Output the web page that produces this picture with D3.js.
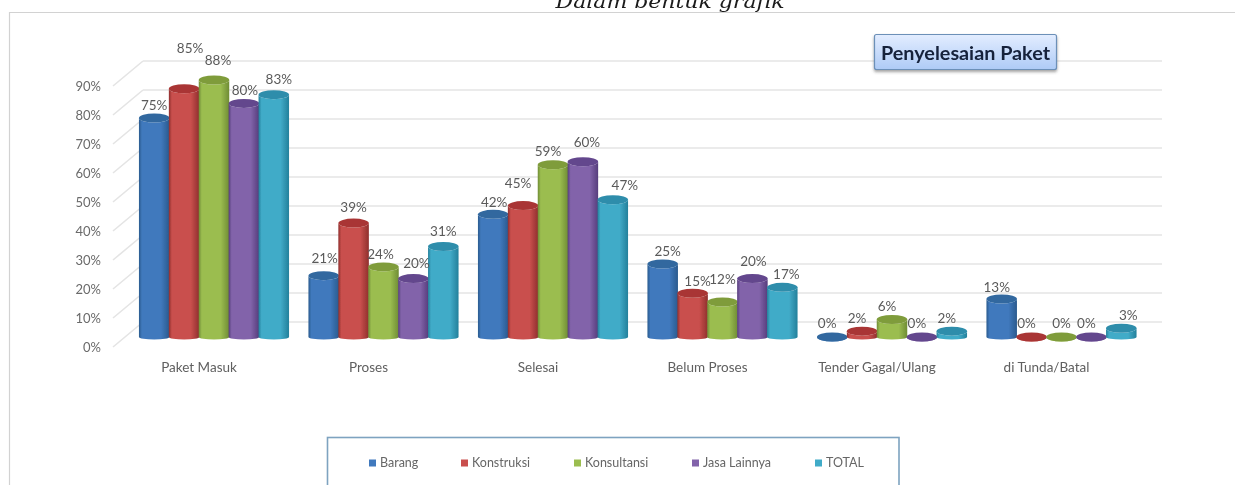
<!DOCTYPE html>
<html>
<head>
<meta charset="utf-8">
<script src="https://cdn.jsdelivr.net/npm/d3@7/dist/d3.min.js"></script>
<style>
html,body{margin:0;padding:0;background:#fff;overflow:hidden}
svg{display:block}
text{font-family:Lato,"Open Sans",sans-serif;fill:#5f5f5f}
</style>
</head>
<body>
<svg id="chart" width="1235" height="485"></svg>
<script>
const categories = ["Paket Masuk","Proses","Selesai","Belum Proses","Tender Gagal/Ulang","di Tunda/Batal"];
const seriesNames = ["Barang","Konstruksi","Konsultansi","Jasa Lainnya","TOTAL"];
const barang      = [75,21,42,25,0,13];
const konstruksi  = [85,39,45,15,2,0];
const konsultansi = [88,24,59,12,6,0];
const jasaLainnya = [80,20,60,20,0,0];
const total       = [83,31,47,17,2,3];
const yTicks = [0,10,20,30,40,50,60,70,80,90];
const seriesValues = [barang,konstruksi,konsultansi,jasaLainnya,total];
const seriesColors = ["#4079bd","#c94f4d","#9bbd50","#8264aa","#41abc8"];
const seriesDark   = ["#2a5a8e","#8f2f2d","#6f8c34","#563c7c","#23809b"];
const seriesTop    = ["#30689f","#a93634","#7f9c3b","#63468d","#2d8dab"];
// label nudges [dx, dy] per category, per series
const labelNudges = [
 [[0,-12],[6,-40],[4,-19],[1,-12],[5,-14]],
 [[1,-16],[0,-15],[-3,-12],[3,-14],[0,-14]],
 [[1,-11],[-5,-21],[-5,-12],[4,-19],[12,-13]],
 [[5,-12],[5,-11],[0,-22],[1,-16],[4,-12]],
 [[-5,-13],[-5,-12],[-5,-12],[-5,-13],[-5,-12]],
 [[-5,-11],[-5,-13],[0,-13],[-5,-13],[7,-12]]
];
const legendSwatchX = [369,461,574,692,815];

const svg = d3.select("#chart");
const defs = svg.append("defs");
defs.append("filter").attr("id","soft").attr("x","-2%").attr("y","-2%").attr("width","104%").attr("height","104%")
  .append("feGaussianBlur").attr("stdDeviation",0.6);
const bf = defs.append("filter").attr("id","boxShadow").attr("x","-10%").attr("y","-20%").attr("width","120%").attr("height","150%");
bf.append("feDropShadow").attr("dx",0).attr("dy",2).attr("stdDeviation",1.5).attr("flood-color","#555").attr("flood-opacity",0.55);

seriesColors.forEach((c,i)=>{
  const g = defs.append("linearGradient").attr("id","cyl"+i).attr("x1",0).attr("x2",1).attr("y1",0).attr("y2",0);
  g.append("stop").attr("offset","0%").attr("stop-color",seriesDark[i]);
  g.append("stop").attr("offset","10%").attr("stop-color",c);
  g.append("stop").attr("offset","72%").attr("stop-color",c);
  g.append("stop").attr("offset","100%").attr("stop-color",seriesDark[i]);
});
const tg = defs.append("linearGradient").attr("id","titleFill").attr("x1",0).attr("x2",0).attr("y1",0).attr("y2",1);
tg.append("stop").attr("offset","0%").attr("stop-color","#e3edff");
tg.append("stop").attr("offset","100%").attr("stop-color","#aecbf6");

// Scales
const x0 = d3.scaleBand().domain(categories).range([129.25,1146.25]).paddingInner(0.118).paddingOuter(0.059);
const x1 = d3.scaleBand().domain(seriesNames).range([0,x0.bandwidth()]);
const yFront = d3.scaleLinear().domain([0,90]).range([347,86]);
const yBack  = d3.scaleLinear().domain([0,90]).range([322,61]);
const yBar   = d3.scaleLinear().domain([0,90]).range([337,74.2]);

const root = svg.append("g").attr("filter","url(#soft)");

// Page title clipped at the top
root.append("text").attr("x",670).attr("y",7.5).attr("text-anchor","middle")
  .attr("textLength",229).attr("lengthAdjust","spacingAndGlyphs")
  .style("font-family","'DejaVu Serif',serif").style("font-style","italic")
  .style("font-size","18.5px").style("fill","#1a1a1a")
  .text("Dalam bentuk grafik");

// Panel border
root.append("path").attr("d","M9.5,485V12.5H1235").attr("fill","none").attr("stroke","#d2d2d2").attr("stroke-width",1.2);

// Gridlines and side wall diagonals
const grid = root.append("g");
grid.selectAll("line.h").data(yTicks).join("line").attr("class","h")
  .attr("x1",143).attr("x2",1162).attr("y1",d=>yBack(d)).attr("y2",d=>yBack(d))
  .attr("stroke","#e4e4e4").attr("stroke-width",1.6);
grid.selectAll("line.d").data(yTicks).join("line").attr("class","d")
  .attr("x1",113).attr("x2",143).attr("y1",d=>yFront(d)).attr("y2",d=>yBack(d))
  .attr("stroke","#e4e4e4").attr("stroke-width",1.6);

// Axes
const yAxis = d3.axisLeft(yFront).tickValues(yTicks).tickSize(0).tickPadding(0).tickFormat(d=>d+"%");
const yG = root.append("g").attr("transform","translate(101,0)").call(yAxis);
yG.select(".domain").remove();
yG.selectAll("text").style("font-size","13px").style("font-family","Lato,sans-serif").style("fill","#6a6a6a");

const xAxis = d3.axisBottom(x0).tickSize(0).tickPadding(0);
const xG = root.append("g").attr("transform","translate(-15,362)").call(xAxis);
xG.select(".domain").remove();
xG.selectAll("text").style("font-size","13.5px").style("font-family","Lato,sans-serif").style("fill","#606060");

// Cylinders
const rxPad = 0.3, ryTop = 4.5, ryBase = 2.5;
const groups = root.selectAll("g.cat").data(categories).join("g").attr("class","cat")
  .attr("transform",d=>`translate(${x0(d)},0)`);
groups.each(function(cat,ci){
  const g = d3.select(this);
  seriesNames.forEach((s,si)=>{
    const v = seriesValues[si][ci];
    const xl = x1(s)-rxPad, w = x1.bandwidth()+2*rxPad, rx = w/2;
    const top = yBar(v), base = yBar(0);
    g.append("path")
      .attr("d",`M${xl},${top}A${rx},${ryTop} 0 0 0 ${xl+w},${top}V${base}A${rx},${ryBase} 0 0 1 ${xl},${base}Z`)
      .attr("fill",`url(#cyl${si})`);
    g.append("ellipse").attr("cx",xl+rx).attr("cy",top).attr("rx",rx).attr("ry",ryTop)
      .attr("fill",seriesTop[si]);
  });
});
// Data labels
groups.each(function(cat,ci){
  const g = d3.select(this);
  seriesNames.forEach((s,si)=>{
    const v = seriesValues[si][ci];
    const n = labelNudges[ci][si];
    g.append("text").attr("x",x1(s)+x1.bandwidth()/2+n[0]).attr("y",yBar(v)+n[1]-1)
      .attr("dy","0.35em").attr("text-anchor","middle")
      .style("font-size","13.5px").style("fill","#5a5a5a").text(v+"%");
  });
});

// Title box
const box = root.append("g");
box.append("rect").attr("x",874.5).attr("y",34.5).attr("width",182).attr("height",35).attr("rx",2)
  .attr("fill","url(#titleFill)").attr("stroke","#6c90b8").attr("stroke-width",1.2).attr("filter","url(#boxShadow)");
box.append("text").attr("x",965.5).attr("y",52.5).attr("dy","0.36em").attr("text-anchor","middle")
  .style("font-size","19.8px").style("font-weight",700).style("fill","#14203a").text("Penyelesaian Paket");

// Legend
const leg = root.append("g");
leg.append("rect").attr("x",327.5).attr("y",437.5).attr("width",571.5).attr("height",70)
  .attr("fill","#fff").attr("stroke","#7ea3c0").attr("stroke-width",1.6);
const items = leg.selectAll("g").data(seriesNames).join("g")
  .attr("transform",(d,i)=>`translate(${legendSwatchX[i]},463)`);
items.append("rect").attr("x",0).attr("y",-3.5).attr("width",7).attr("height",7)
  .attr("fill",(d,i)=>seriesColors[i]);
items.append("text").attr("x",11).attr("dy","0.35em").style("font-size","12.5px").style("fill","#666").text(d=>d);
</script>
</body>
</html>
